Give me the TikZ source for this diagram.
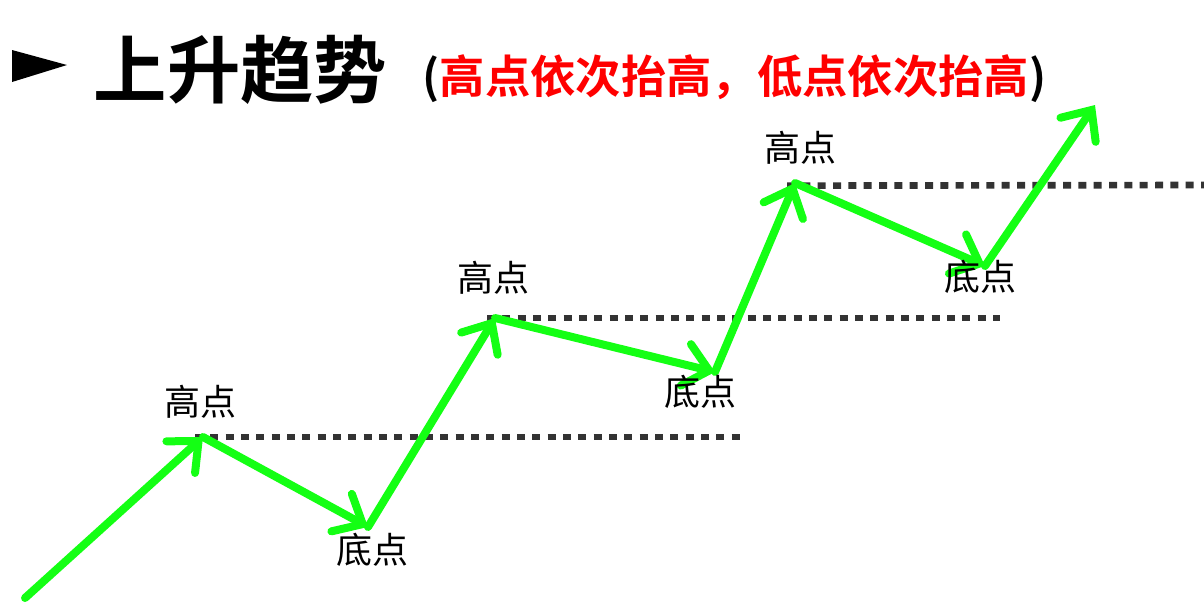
\documentclass[tikz,border=0pt]{standalone}
\usepackage{fontspec}
\newfontfamily\cjk{Noto Sans CJK SC}[BoldFont={Noto Sans CJK SC Bold}]
\usetikzlibrary{arrows.meta}
\definecolor{trendgreen}{RGB}{20,255,20}
\definecolor{dotgray}{RGB}{51,51,51}
\tikzset{
  trend/.style={draw=trendgreen, line width=6pt, line cap=round,
    -{Straight Barb[length=18pt,width=32pt,line cap=round]}},
  level/.style={draw=dotgray, line width=5pt, dash pattern=on 6pt off 5.5pt},
  pointlabel/.style={font=\cjk\fontsize{27}{27}\selectfont}
}
\begin{document}
\begin{tikzpicture}[x=0.75pt,y=-0.75pt]
  \useasboundingbox (0,0) rectangle (1204,608);
  %% title
  \fill (12,50) -- (67,65) -- (12,82) -- cycle;
  \node[anchor=west,font=\cjk\bfseries\fontsize{55}{55}\selectfont] (title) at (89,70) {上升趋势};
  \node[anchor=west,font=\cjk\bfseries\fontsize{34}{34}\selectfont] (rule) at (418,79)
    {(\textcolor{red}{高点依次抬高，低点依次抬高})};

  %% turning points
  \coordinate (start) at (25,598);
  \coordinate (h1) at (203,437);
  \coordinate (l1) at (368,527);
  \coordinate (h2) at (495,318);
  \coordinate (l2) at (715,372);
  \coordinate (h3) at (795,183);
  \coordinate (l3) at (985,266);
  \coordinate (end) at (1095,105);

  %% levels of the highs
  \coordinate (e1) at (742,437);
  \coordinate (e2) at (1000,318);
  \coordinate (e3) at (1204,185);
  \draw[level] ([xshift=-6pt]h1) -- (e1);
  \draw[level] ([xshift=-6pt]h2) -- (e2);
  \draw[level] ([xshift=-6pt,yshift=-2pt]h3) -- (e3);

  %% the trend
  \draw[trend] (start) -- (h1);
  \draw[trend] (h1) -- (l1);
  \draw[trend] (l1) -- (h2);
  \draw[trend] (h2) -- (l2);
  \draw[trend] (l2) -- (h3);
  \draw[trend] (h3) -- (l3);
  \draw[trend] (l3) -- (end);

  %% labels
  \node[pointlabel] (hl1) at (200,402) {高点};
  \node[pointlabel] (ll1) at (372,550) {底点};
  \node[pointlabel] (hl2) at (493,278) {高点};
  \node[pointlabel] (ll2) at (700,392) {底点};
  \node[pointlabel] (hl3) at (800,148) {高点};
  \node[pointlabel] (ll3) at (980,277) {底点};
\end{tikzpicture}
\end{document}
